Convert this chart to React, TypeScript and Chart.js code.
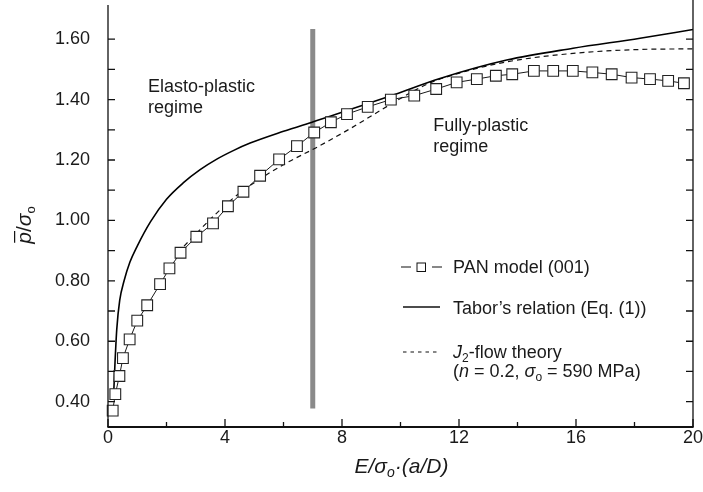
import React, { useEffect, useRef } from 'react';
import { Chart, registerables } from 'chart.js';

Chart.register(...registerables);

const FONT = '"Liberation Sans", Arial, Helvetica, sans-serif';

// PAN model (001) – square markers
const panX = [0.16, 0.25, 0.39, 0.51, 0.74, 1.0, 1.34, 1.78, 2.1, 2.48, 3.02, 3.59, 4.1, 4.63, 5.2, 5.85, 6.46, 7.05, 7.62, 8.17, 8.88, 9.67, 10.47, 11.22, 11.92, 12.61, 13.26, 13.82, 14.56, 15.22, 15.89, 16.56, 17.22, 17.9, 18.53, 19.15, 19.69];
const panY = [0.37, 0.425, 0.485, 0.544, 0.606, 0.668, 0.719, 0.789, 0.841, 0.893, 0.946, 0.99, 1.047, 1.095, 1.148, 1.202, 1.246, 1.291, 1.325, 1.352, 1.376, 1.4, 1.413, 1.435, 1.457, 1.468, 1.479, 1.484, 1.495, 1.495, 1.495, 1.49, 1.484, 1.473, 1.468, 1.462, 1.454];

// Tabor's relation (Eq. (1)) – solid
const taborX = [0.2, 0.24, 0.3, 0.4, 0.55, 0.75, 1.0, 1.45, 2.0, 2.58, 3.15, 3.72, 4.3, 4.86, 6.0, 7.02, 7.62, 8.17, 9.65, 11.35, 13.63, 15.9, 18.19, 20];
const taborY = [0.44, 0.53, 0.64, 0.735, 0.8, 0.862, 0.915, 0.995, 1.07, 1.125, 1.168, 1.203, 1.232, 1.256, 1.295, 1.327, 1.346, 1.364, 1.412, 1.47, 1.531, 1.57, 1.603, 1.632];

// J2-flow theory – dashed
const j2X = [2.6, 3.0, 3.67, 4.3, 5.0, 6.1, 7.1, 7.7, 8.3, 9.07, 10.2, 11.0, 11.92, 13.63, 15.9, 18.19, 20];
const j2Y = [0.915, 0.955, 1.02, 1.075, 1.125, 1.19, 1.24, 1.272, 1.305, 1.35, 1.415, 1.455, 1.485, 1.525, 1.553, 1.566, 1.568];

// regime boundary (grey bar)
const boundaryX = [7, 7];
const boundaryY = [0.377, 1.634];

const xLabelTicks = [0, 4, 8, 12, 16, 20];
const xMinorTicks = [2, 6, 10, 14, 18];
const yLabelTicks = [0.4, 0.6, 0.8, 1.0, 1.2, 1.4, 1.6];
const yAllTicks = [0.4, 0.5, 0.6, 0.7, 0.8, 0.9, 1.0, 1.1, 1.2, 1.3, 1.4, 1.5, 1.6];

const X_MIN = 0;
const X_MAX = 20;
const Y_MIN = 0.316;
const Y_MAX = 1.7;

const annotLines = [['Elasto-plastic', 'regime'], ['Fully-plastic', 'regime']];
const annotX = [1.37, 11.12];
const annotY = [1.424, 1.296];

type Seg = { t: string; italic?: boolean; size?: number; dy?: number; overline?: boolean };

function fontFor(s: Seg, base: number) {
  return `${s.italic ? 'italic ' : ''}${s.size ?? base}px ${FONT}`;
}

function drawRich(ctx: CanvasRenderingContext2D, segs: Seg[], x: number, y: number, base: number, align: 'left' | 'center') {
  const widths = segs.map((s) => {
    ctx.font = fontFor(s, base);
    return ctx.measureText(s.t).width;
  });
  const total = widths.reduce((a, b) => a + b, 0);
  let cx = align === 'center' ? x - total / 2 : x;
  ctx.textAlign = 'left';
  ctx.textBaseline = 'alphabetic';
  segs.forEach((s, i) => {
    ctx.font = fontFor(s, base);
    ctx.fillText(s.t, cx, y + (s.dy ?? 0));
    if (s.overline) {
      const sz = s.size ?? base;
      ctx.save();
      ctx.lineWidth = 1.2;
      ctx.beginPath();
      ctx.moveTo(cx + 1, y - sz * 0.78);
      ctx.lineTo(cx + widths[i] + 1, y - sz * 0.78);
      ctx.stroke();
      ctx.restore();
    }
    cx += widths[i];
  });
}

const decorPlugin = {
  id: 'decor',
  afterDatasetsDraw(chart: any) {
    const { ctx, chartArea: a, scales } = chart;
    const xs = scales.x;
    const ys = scales.y;
    ctx.save();
    ctx.strokeStyle = '#111';
    ctx.fillStyle = '#1a1a1a';

    // axes frame (left, bottom, right)
    ctx.lineWidth = 1.3;
    ctx.beginPath();
    ctx.moveTo(a.left, a.top - 4);
    ctx.lineTo(a.left, a.bottom);
    ctx.moveTo(a.right, a.bottom);
    ctx.lineTo(a.right, a.top - 9);
    ctx.stroke();
    ctx.lineWidth = 2;
    ctx.beginPath();
    ctx.moveTo(a.left - 0.6, a.bottom);
    ctx.lineTo(a.right + 0.6, a.bottom);
    ctx.stroke();

    // inward ticks
    ctx.lineWidth = 1.3;
    ctx.beginPath();
    yAllTicks.forEach((v) => {
      const py = ys.getPixelForValue(v);
      ctx.moveTo(a.left, py);
      ctx.lineTo(a.left + 7, py);
      ctx.moveTo(a.right, py);
      ctx.lineTo(a.right - 7, py);
    });
    xLabelTicks.forEach((v) => {
      const px = xs.getPixelForValue(v);
      ctx.moveTo(px, a.bottom);
      ctx.lineTo(px, a.bottom - 8);
    });
    xMinorTicks.forEach((v) => {
      const px = xs.getPixelForValue(v);
      ctx.moveTo(px, a.bottom);
      ctx.lineTo(px, a.bottom - 5);
    });
    ctx.stroke();

    // tick labels
    ctx.font = `18px ${FONT}`;
    ctx.textBaseline = 'middle';
    ctx.textAlign = 'right';
    yLabelTicks.forEach((v) => {
      ctx.fillText(v.toFixed(2), a.left - 18, ys.getPixelForValue(v));
    });
    ctx.textAlign = 'center';
    xLabelTicks.forEach((v) => {
      ctx.fillText(String(v), xs.getPixelForValue(v), a.bottom + 11);
    });

    // regime annotations
    ctx.font = `18px ${FONT}`;
    ctx.textAlign = 'left';
    ctx.textBaseline = 'alphabetic';
    annotLines.forEach((lines, i) => {
      const px = xs.getPixelForValue(annotX[i]);
      const py = ys.getPixelForValue(annotY[i]);
      lines.forEach((t, j) => ctx.fillText(t, px, py + j * 21));
    });

    // legend
    ctx.lineWidth = 1.2;
    ctx.beginPath();
    ctx.moveTo(401, 267);
    ctx.lineTo(411, 267);
    ctx.moveTo(432, 267);
    ctx.lineTo(442, 267);
    ctx.stroke();
    ctx.fillStyle = '#fff';
    ctx.fillRect(417, 263, 8.5, 8.5);
    ctx.lineWidth = 1;
    ctx.strokeRect(417, 263, 8.5, 8.5);
    ctx.fillStyle = '#1a1a1a';

    ctx.lineWidth = 1.5;
    ctx.beginPath();
    ctx.moveTo(403, 307);
    ctx.lineTo(440, 307);
    ctx.stroke();

    ctx.lineWidth = 1.2;
    ctx.setLineDash([3.5, 4]);
    ctx.beginPath();
    ctx.moveTo(403, 352);
    ctx.lineTo(440, 352);
    ctx.stroke();
    ctx.setLineDash([]);

    ctx.font = `18px ${FONT}`;
    ctx.fillText('PAN model (001)', 453, 273);
    ctx.fillText('Tabor\u2019s relation (Eq. (1))', 453, 313.5);
    drawRich(ctx, [
      { t: 'J', italic: true },
      { t: '2', size: 12, dy: 4 },
      { t: '-flow theory' },
    ], 453, 358, 18, 'left');
    drawRich(ctx, [
      { t: '(' },
      { t: 'n', italic: true },
      { t: ' = 0.2, ' },
      { t: '\u03C3', italic: true },
      { t: 'o', size: 12, dy: 4 },
      { t: ' = 590 MPa)' },
    ], 453, 377, 18, 'left');

    // x-axis title
    drawRich(ctx, [
      { t: 'E/\u03C3', italic: true },
      { t: 'o', italic: true, size: 14, dy: 4 },
      { t: '\u00B7(a/D)', italic: true },
    ], (a.left + a.right) / 2 + 1, 473, 21, 'center');

    // y-axis title
    ctx.save();
    ctx.translate(31, 225);
    ctx.rotate(-Math.PI / 2);
    drawRich(ctx, [
      { t: 'p', italic: true, overline: true },
      { t: '/' },
      { t: '\u03C3', italic: true },
      { t: 'o', size: 13, dy: 4 },
    ], 0, 0, 21, 'center');
    ctx.restore();

    ctx.restore();
  },
};

export default function App() {
  const ref = useRef<HTMLCanvasElement | null>(null);

  useEffect(() => {
    document.body.style.margin = '0';
    const canvas = ref.current;
    if (!canvas) return;
    const toPts = (xs: number[], ys: number[]) => xs.map((v, i) => ({ x: v, y: ys[i] }));
    const chart = new Chart(canvas, {
      type: 'line',
      data: {
        datasets: [
          {
            label: 'PAN model (001)',
            data: toPts(panX, panY),
            borderColor: '#1a1a1a',
            borderWidth: 1,
            pointStyle: 'rect',
            pointRadius: 7.6,
            pointBackgroundColor: '#ffffff',
            pointBorderColor: '#222222',
            pointBorderWidth: 1.1,
            clip: false,
            order: 0,
          },
          {
            label: 'Tabor\u2019s relation (Eq. (1))',
            data: toPts(taborX, taborY),
            borderColor: '#000000',
            borderWidth: 1.6,
            pointRadius: 0,
            cubicInterpolationMode: 'monotone',
            order: 1,
          },
          {
            label: 'J2-flow theory',
            data: toPts(j2X, j2Y),
            borderColor: '#111111',
            borderWidth: 1.2,
            borderDash: [5, 4],
            pointRadius: 0,
            cubicInterpolationMode: 'monotone',
            order: 2,
          },
          {
            label: 'boundary',
            data: toPts(boundaryX, boundaryY),
            borderColor: '#8a8a8a',
            borderWidth: 5,
            pointRadius: 0,
            order: 3,
          },
        ],
      } as any,
      options: {
        responsive: false,
        animation: false,
        devicePixelRatio: 1,
        layout: { autoPadding: false, padding: { left: 0, right: 10, top: 9, bottom: 0 } },
        plugins: { legend: { display: false }, tooltip: { enabled: false }, title: { display: false } },
        scales: {
          x: {
            type: 'linear',
            min: X_MIN,
            max: X_MAX,
            afterFit: (s: any) => {
              s.height = 65;
            },
            grid: { display: false, drawTicks: false },
            border: { display: false },
            ticks: { display: false },
          },
          y: {
            type: 'linear',
            min: Y_MIN,
            max: Y_MAX,
            afterFit: (s: any) => {
              s.width = 108;
            },
            grid: { display: false, drawTicks: false },
            border: { display: false },
            ticks: { display: false },
          },
        },
      } as any,
      plugins: [decorPlugin],
    });
    return () => chart.destroy();
  }, []);

  return (
    <div style={{ width: 703, height: 492 }}>
      <canvas ref={ref} width={703} height={492} style={{ display: 'block', width: 703, height: 492 }} />
    </div>
  );
}
